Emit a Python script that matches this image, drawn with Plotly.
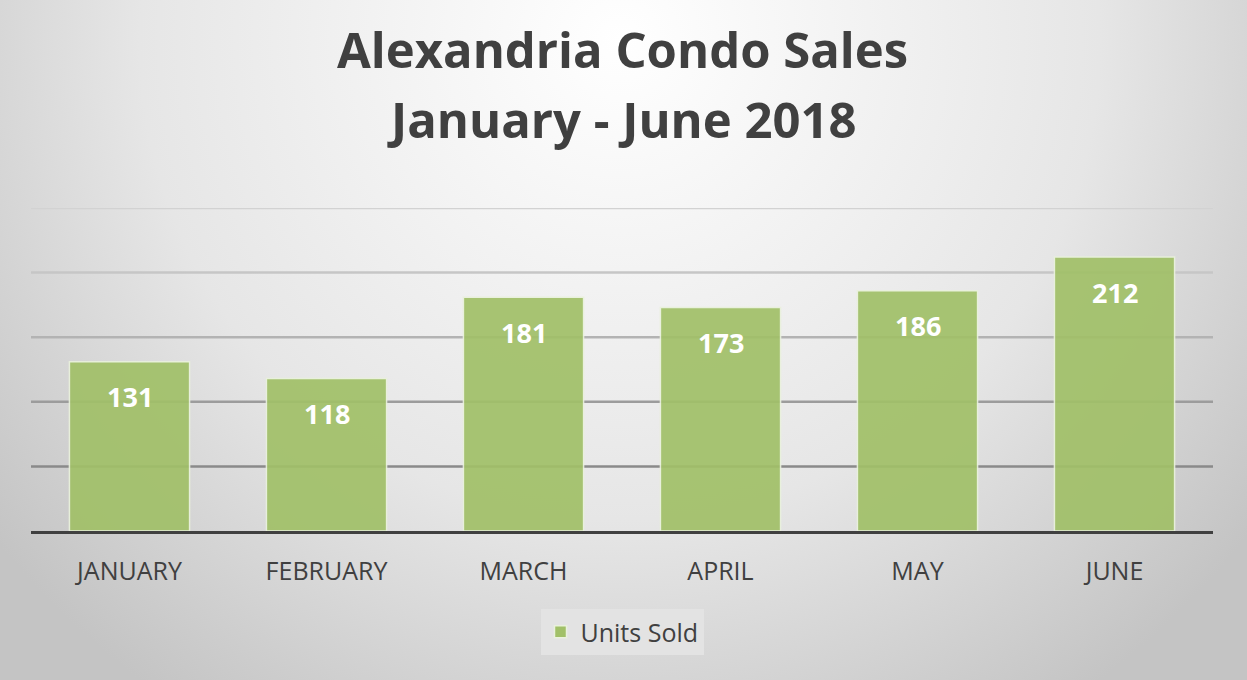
import base64
import plotly.graph_objects as go

months = ["JANUARY", "FEBRUARY", "MARCH", "APRIL", "MAY", "JUNE"]
units_sold = [131, 118, 181, 173, 186, 212]
grid_values = [50, 100, 150, 200, 250]
grid_colors = ["#8a8a8a", "#9c9c9c", "#b3b3b3", "#c6c6c6", "#d2d2d2"]
title_line1 = "Alexandria Condo Sales"
title_line2 = "January - June 2018"
series_name = "Units Sold"

W, H = 1247, 680
svg = (
    f'<svg xmlns="http://www.w3.org/2000/svg" width="{W}" height="{H}">'
    '<defs><radialGradient id="g" cx="620" cy="40" r="800" gradientUnits="userSpaceOnUse">'
    '<stop offset="0" stop-color="#ffffff"/>'
    '<stop offset="0.6" stop-color="#e6e6e6"/>'
    '<stop offset="1" stop-color="#c4c4c4"/>'
    '</radialGradient></defs>'
    f'<rect width="{W}" height="{H}" fill="url(#g)"/></svg>'
)
bg_uri = "data:image/svg+xml;base64," + base64.b64encode(svg.encode()).decode()

fig = go.Figure()
fig.add_trace(go.Bar(
    x=months, y=units_sold, name=series_name,
    marker=dict(color="#a1c068", opacity=0.92,
                line=dict(color="#e9f1dc", width=1.5)),
    showlegend=True,
))

annotations = []
for m, v in zip(months, units_sold):
    annotations.append(dict(
        x=m, y=v, xref="x", yref="y", text=f"<b>{v}</b>", showarrow=False,
        yanchor="middle", yshift=-35,
        font=dict(family="Open Sans", size=27, color="#ffffff"),
    ))

annotations.append(dict(
    x=0.5, y=1.491, xref="paper", yref="paper", text=f"<b>{title_line1}</b>",
    showarrow=False, yanchor="middle", xanchor="center",
    font=dict(family="Open Sans", size=49, color="#404040"),
))
annotations.append(dict(
    x=0.5, y=1.276, xref="paper", yref="paper", text=f"<b>{title_line2}</b>",
    showarrow=False, yanchor="middle", xanchor="center",
    font=dict(family="Open Sans", size=49, color="#404040"),
))

shapes = []
for gv, gc in zip(grid_values, grid_colors):
    shapes.append(dict(
        type="line", xref="paper", yref="y", x0=0, x1=1, y0=gv, y1=gv,
        line=dict(color=gc, width=2.5), layer="below",
    ))

fig.update_layout(
    width=W, height=H,
    margin=dict(l=31, r=34, t=208, b=149),
    paper_bgcolor="rgba(0,0,0,0)",
    plot_bgcolor="rgba(0,0,0,0)",
    bargap=0.39,
    images=[dict(source=bg_uri, xref="paper", yref="paper", x=-31/1182, y=1 + 208/323,
                 sizex=W/1182, sizey=H/323, xanchor="left", yanchor="top",
                 sizing="stretch", layer="below")],
    xaxis=dict(showline=True, linecolor="#404040", linewidth=3, showgrid=False,
               ticks="outside", ticklen=16, tickcolor="rgba(0,0,0,0)",
               tickfont=dict(family="Open Sans", size=25, color="#404040"),
               fixedrange=True),
    yaxis=dict(range=[0, 250], showgrid=False, zeroline=False, showticklabels=False,
               fixedrange=True),
    legend=dict(orientation="h", x=0.5, xanchor="center", y=-0.2415, yanchor="top",
                bgcolor="#e3e3e3", borderwidth=0,
                font=dict(family="Open Sans", size=25, color="#404040")),
    annotations=annotations,
    shapes=shapes,
    font=dict(family="Open Sans"),
)

fig.write_html("out.html", config={"displayModeBar": False},
               post_script="document.body.style.margin='0';document.body.style.overflow='hidden';")
